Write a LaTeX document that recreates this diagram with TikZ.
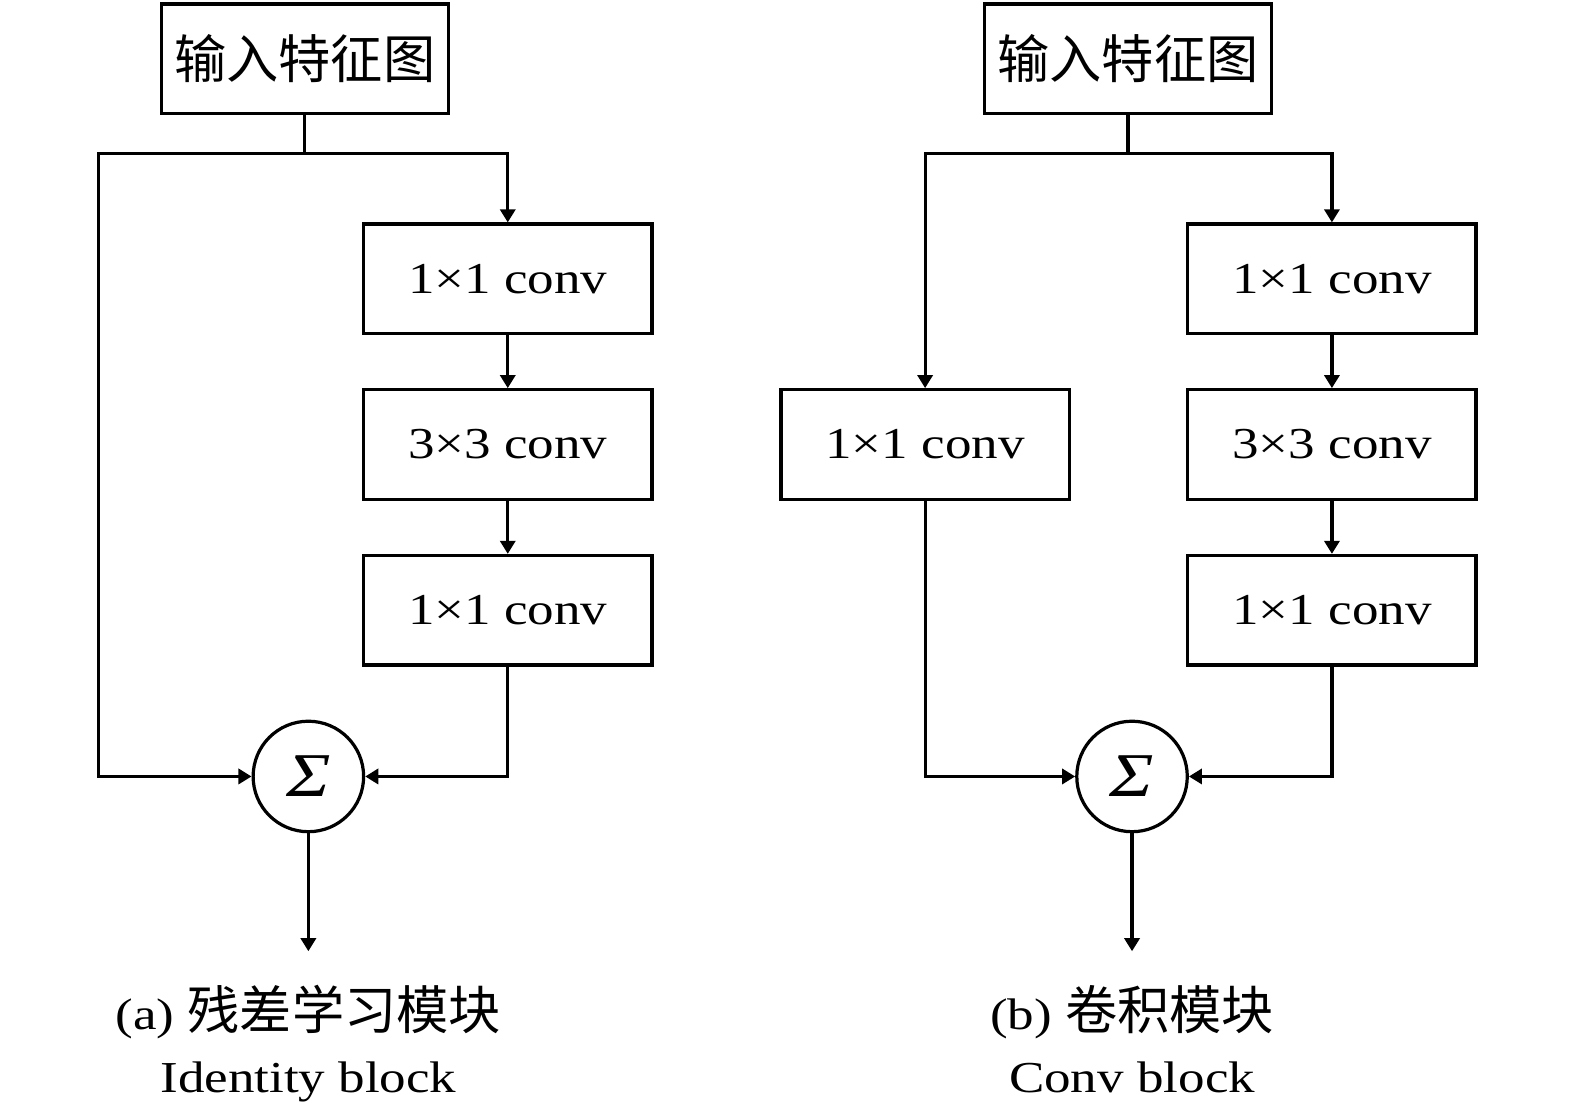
\documentclass[tikz,border=0pt]{standalone}
\usepackage{fontspec}
\setmainfont{Liberation Serif}[FakeStretch=1.2]
\newfontfamily\cjk{Noto Sans CJK SC}
\usetikzlibrary{arrows.meta}
\newcommand{\zh}[1]{{\cjk\fontsize{26}{30}\selectfont #1}}
\begin{document}
\begin{tikzpicture}[x=0.5pt,y=-0.5pt,line width=1.6pt,
  box/.style={draw,minimum width=143.5pt,minimum height=54.5pt,inner sep=0pt,font=\fontsize{22}{26}\selectfont},
  inbox/.style={draw,minimum width=143pt,minimum height=54.5pt,inner sep=0pt},
  sumnode/.style={draw,circle,minimum size=55pt,inner sep=0pt,font=\fontsize{31}{34}\selectfont\itshape},
  captext/.style={anchor=base,inner sep=0pt,font=\fontsize{22}{26}\selectfont},
  arr/.style={-{Triangle[length=6.5pt,width=7.5pt]}}]
\useasboundingbox (0,0) rectangle (1568,1109);
% ---------- (a) ----------
\node[inbox] (inA) at (303.5,58.5) {\zh{输入特征图}};
\node[box] (a1) at (505.5,277.5) {1×1 conv};
\node[box] (a2) at (505.5,442.5) {3×3 conv};
\node[box] (a3) at (505.5,607.5) {1×1 conv};
\node[sumnode] (sA) at (307,773) {Σ};
\coordinate (jA) at (303.5,153);
\coordinate (lA) at (98,153);
\coordinate (oA) at (307,947);
\draw (inA.south) -- (jA);
\draw[arr] (jA) -| (a1.north);
\draw[arr] (jA) -- (lA) |- (sA.west);
\draw[arr] (a1) -- (a2);
\draw[arr] (a2) -- (a3);
\draw[arr] (a3.south) |- (sA.east);
\draw[arr] (sA.south) -- (oA);
\node[captext] (capA1) at (307,1025) {(a) \zh{残差学习模块}};
\node[captext] (capA2) at (307,1088) {Identity block};
% ---------- (b) ----------
\node[inbox] (inB) at (1123,58.5) {\zh{输入特征图}};
\node[box] (b0) at (921,442.5) {1×1 conv};
\node[box] (b1) at (1326,277.5) {1×1 conv};
\node[box] (b2) at (1326,442.5) {3×3 conv};
\node[box] (b3) at (1326,607.5) {1×1 conv};
\node[sumnode] (sB) at (1127,773) {Σ};
\coordinate (jB) at (1123,153);
\coordinate (lB) at (921,153);
\coordinate (oB) at (1127,947);
\draw (inB.south) -- (jB);
\draw[arr] (jB) -| (b1.north);
\draw[arr] (jB) -- (lB) -- (b0.north);
\draw[arr] (b0.south) |- (sB.west);
\draw[arr] (b1) -- (b2);
\draw[arr] (b2) -- (b3);
\draw[arr] (b3.south) |- (sB.east);
\draw[arr] (sB.south) -- (oB);
\node[captext] (capB1) at (1127,1025) {(b) \zh{卷积模块}};
\node[captext] (capB2) at (1127,1088) {Conv block};
\end{tikzpicture}
\end{document}
